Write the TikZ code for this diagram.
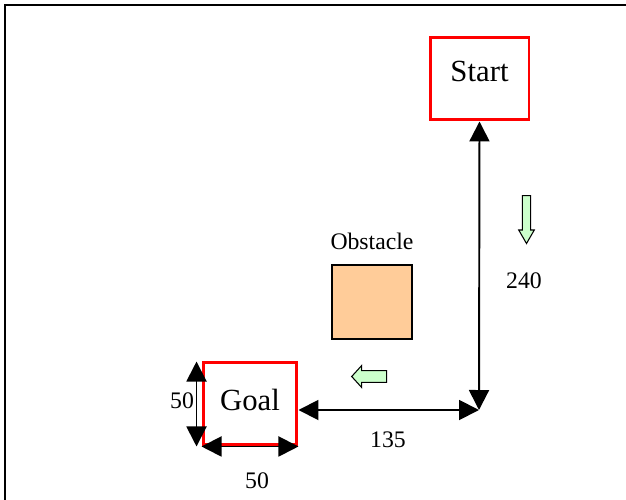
\documentclass[tikz,border=0pt]{standalone}
\usepackage{fontspec}
\setmainfont{Liberation Serif}
\usetikzlibrary{arrows.meta,positioning,calc}

\begin{document}
\begin{tikzpicture}[
    x=0.02cm, y=-0.02cm,
    place/.style={rectangle, draw=red, line width=1.7pt, inner sep=0pt, font=\fontsize{17.5}{20}\selectfont},
    obstacle/.style={rectangle, draw=black, fill={rgb,255:red,255;green,204;blue,153}, line width=1.1pt, minimum width=1.6cm, minimum height=1.48cm},
    dim/.style={{Triangle[length=0.4cm,width=0.4cm]}-{Triangle[length=0.4cm,width=0.4cm]}, line width=1.1pt},
    move/.style={draw=black, fill={rgb,255:red,204;green,255;blue,204}, line width=0.6pt, line join=miter},
    label/.style={font=\fontsize{13.5}{16}\selectfont}
]
\useasboundingbox (0,0) rectangle (626,500);

% Frame
\draw[line width=1.2pt] (5,500) -- (5,5) -- (626,5);

% Start and goal
\node[place, minimum width=1.98cm, minimum height=1.66cm] (start) at (479.5,78.5) {\raisebox{0.28cm}{Start}};
\node[place, minimum width=1.88cm, minimum height=1.66cm] (goal) at (250,403.5) {\raisebox{0.14cm}{Goal}};

% Obstacle
\node[obstacle] (obs) at (372,302) {};
\node[label, above=0.16cm of obs] (obslabel) {Obstacle};

% Path legs
\coordinate (corner) at (479,410);
\draw[dim] (start.south) -- (corner);
\draw[dim] (corner) -- (goal.east |- corner);
\node[label] (down) at (524,281) {240};
\node[label] (left) at (388,440) {135};

% Goal size
\draw[dim] ($(goal.north west)+(-5,1)$) -- ($(goal.south west)+(-5,0)$);
\draw[dim] (goal.south west) -- (goal.south east);
\node[label] (gh) at (182,401) {50};
\node[label] (gw) at (257,481) {50};

% Direction of travel
\draw[move] (522.3,195.7) -- (530.7,195.7) -- (530.7,230) -- (534.3,230)
    -- (526.5,243.5) -- (518.7,230) -- (522.3,230) -- cycle;
\draw[move] (386.7,370.7) -- (386.7,382.3) -- (361.7,382.3) -- (361.7,387.5)
    -- (351.7,376.5) -- (361.7,365.5) -- (361.7,370.7) -- cycle;

\end{tikzpicture}
\end{document}
